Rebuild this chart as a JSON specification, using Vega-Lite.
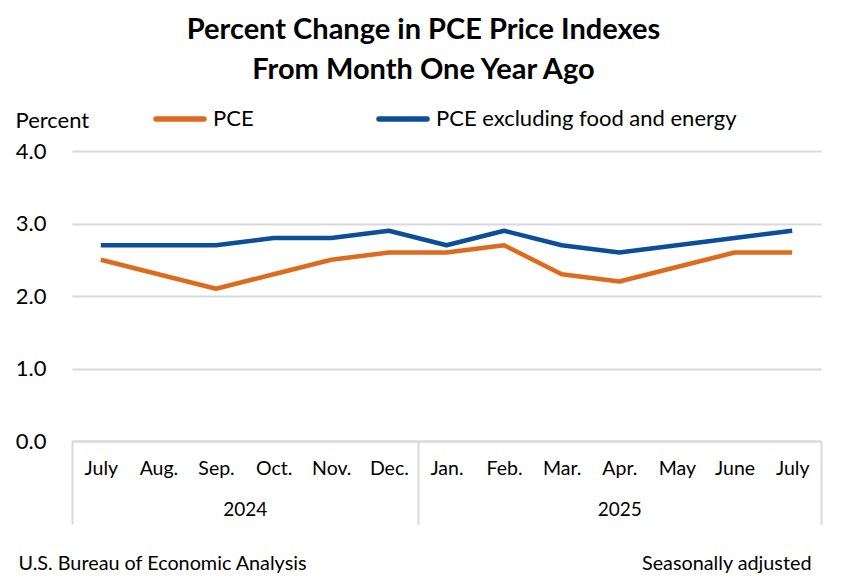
{
  "$schema": "https://vega.github.io/schema/vega-lite/v6.json",
  "description": "Percent change in PCE price indexes from month one year ago",
  "background": "#ffffff",
  "width": 749,
  "height": 290,
  "autosize": {"type": "none"},
  "padding": {"left": 72, "top": 151, "right": 31, "bottom": 147},
  "title": {
    "text": ["Percent Change in PCE Price Indexes", "From Month One Year Ago"],
    "font": "Lato",
    "fontSize": 29,
    "fontWeight": "bold",
    "lineHeight": 40,
    "color": "#000000",
    "anchor": "middle",
    "frame": "group",
    "dx": -23,
    "offset": 7
  },
  "data": {
    "values": [
      {"i": 0, "period": "July 2024", "series": "PCE", "value": 2.5},
      {"i": 1, "period": "Aug. 2024", "series": "PCE", "value": 2.3},
      {"i": 2, "period": "Sep. 2024", "series": "PCE", "value": 2.1},
      {"i": 3, "period": "Oct. 2024", "series": "PCE", "value": 2.3},
      {"i": 4, "period": "Nov. 2024", "series": "PCE", "value": 2.5},
      {"i": 5, "period": "Dec. 2024", "series": "PCE", "value": 2.6},
      {"i": 6, "period": "Jan. 2025", "series": "PCE", "value": 2.6},
      {"i": 7, "period": "Feb. 2025", "series": "PCE", "value": 2.7},
      {"i": 8, "period": "Mar. 2025", "series": "PCE", "value": 2.3},
      {"i": 9, "period": "Apr. 2025", "series": "PCE", "value": 2.2},
      {"i": 10, "period": "May 2025", "series": "PCE", "value": 2.4},
      {"i": 11, "period": "June 2025", "series": "PCE", "value": 2.6},
      {"i": 12, "period": "July 2025", "series": "PCE", "value": 2.6},
      {"i": 0, "period": "July 2024", "series": "PCE excluding food and energy", "value": 2.7},
      {"i": 1, "period": "Aug. 2024", "series": "PCE excluding food and energy", "value": 2.7},
      {"i": 2, "period": "Sep. 2024", "series": "PCE excluding food and energy", "value": 2.7},
      {"i": 3, "period": "Oct. 2024", "series": "PCE excluding food and energy", "value": 2.8},
      {"i": 4, "period": "Nov. 2024", "series": "PCE excluding food and energy", "value": 2.8},
      {"i": 5, "period": "Dec. 2024", "series": "PCE excluding food and energy", "value": 2.9},
      {"i": 6, "period": "Jan. 2025", "series": "PCE excluding food and energy", "value": 2.7},
      {"i": 7, "period": "Feb. 2025", "series": "PCE excluding food and energy", "value": 2.9},
      {"i": 8, "period": "Mar. 2025", "series": "PCE excluding food and energy", "value": 2.7},
      {"i": 9, "period": "Apr. 2025", "series": "PCE excluding food and energy", "value": 2.6},
      {"i": 10, "period": "May 2025", "series": "PCE excluding food and energy", "value": 2.7},
      {"i": 11, "period": "June 2025", "series": "PCE excluding food and energy", "value": 2.8},
      {"i": 12, "period": "July 2025", "series": "PCE excluding food and energy", "value": 2.9}
    ]
  },
  "layer": [
    {
      "mark": {"type": "line", "strokeWidth": 4.5, "strokeJoin": "round", "strokeCap": "butt"},
      "encoding": {
        "x": {
          "field": "period",
          "type": "ordinal",
          "sort": ["July 2024", "Aug. 2024", "Sep. 2024", "Oct. 2024", "Nov. 2024", "Dec. 2024",
                   "Jan. 2025", "Feb. 2025", "Mar. 2025", "Apr. 2025", "May 2025", "June 2025", "July 2025"],
          "scale": {"type": "point", "padding": 0.5},
          "axis": {
            "orient": "bottom",
            "title": null,
            "labelExpr": "split(datum.label, ' ')[0]",
            "labelAngle": 0,
            "labelFont": "Lato",
            "labelFontSize": 19.5,
            "labelColor": "#000000",
            "labelPadding": 18,
            "ticks": false,
            "domain": true,
            "domainColor": "#d9d9d9",
            "domainWidth": 2
          }
        },
        "y": {
          "field": "value",
          "type": "quantitative",
          "scale": {"domain": [0, 4]},
          "axis": {
            "values": [0, 1, 2, 3, 4],
            "format": ".1f",
            "labelFont": "Lato",
            "labelFontSize": 22,
            "labelColor": "#000000",
            "labelPadding": 26,
            "domain": false,
            "ticks": false,
            "gridColor": "#d9d9d9",
            "gridWidth": 2,
            "title": "Percent",
            "titleFont": "Lato",
            "titleFontSize": 22,
            "titleFontWeight": "normal",
            "titleColor": "#000000",
            "titleAngle": 0,
            "titleAlign": "left",
            "titleBaseline": "alphabetic",
            "titleX": -57,
            "titleY": -24
          }
        },
        "color": {
          "field": "series",
          "type": "nominal",
          "scale": {
            "domain": ["PCE", "PCE excluding food and energy"],
            "range": ["#de6a1e", "#0b4f9b"]
          },
          "legend": {
            "orient": "none",
            "direction": "horizontal",
            "legendX": 81,
            "legendY": -59,
            "title": null,
            "symbolType": "stroke",
            "symbolSize": 2304,
            "symbolStrokeWidth": 5.5,
            "symbolOffset": 0,
            "labelOffset": 6,
            "labelFont": "Lato",
            "labelFontSize": 22,
            "labelColor": "#000000",
            "labelLimit": 0,
            "columnPadding": 114,
            "encode": {"symbols": {"update": {"strokeCap": {"value": "round"}}}}
          }
        }
      }
    },
    {
      "mark": {"type": "point", "opacity": 0},
      "encoding": {
        "x": {
          "field": "i",
          "type": "quantitative",
          "scale": {"domain": [-0.5, 12.5], "nice": false, "zero": false},
          "axis": {
            "orient": "bottom",
            "values": [2.5, 9],
            "labelExpr": "datum.value < 6 ? '2024' : '2025'",
            "labelFont": "Lato",
            "labelFontSize": 19,
            "labelColor": "#000000",
            "labelPadding": 59,
            "labelFlush": false,
            "ticks": false,
            "domain": false,
            "grid": false,
            "title": "U.S. Bureau of Economic Analysis",
            "titleFont": "Lato",
            "titleFontSize": 19.8,
            "titleFontWeight": "normal",
            "titleColor": "#000000",
            "titleAlign": "left",
            "titleBaseline": "alphabetic",
            "titleX": -54,
            "titleY": 128
          }
        }
      }
    },
    {
      "mark": {"type": "point", "opacity": 0},
      "encoding": {
        "x": {
          "field": "i",
          "type": "quantitative",
          "scale": {"domain": [-0.5, 12.5], "nice": false, "zero": false},
          "axis": {
            "orient": "bottom",
            "values": [-0.5, 5.5, 12.5],
            "labels": false,
            "ticks": true,
            "tickSize": 83,
            "tickColor": "#d9d9d9",
            "tickWidth": 2,
            "domain": false,
            "grid": false,
            "title": "Seasonally adjusted",
            "titleFont": "Lato",
            "titleFontSize": 19.8,
            "titleFontWeight": "normal",
            "titleColor": "#000000",
            "titleAlign": "right",
            "titleBaseline": "alphabetic",
            "titleX": 739,
            "titleY": 128
          }
        }
      }
    }
  ],
  "resolve": {"scale": {"x": "independent"}},
  "config": {"view": {"stroke": null}, "font": "Lato"}
}
